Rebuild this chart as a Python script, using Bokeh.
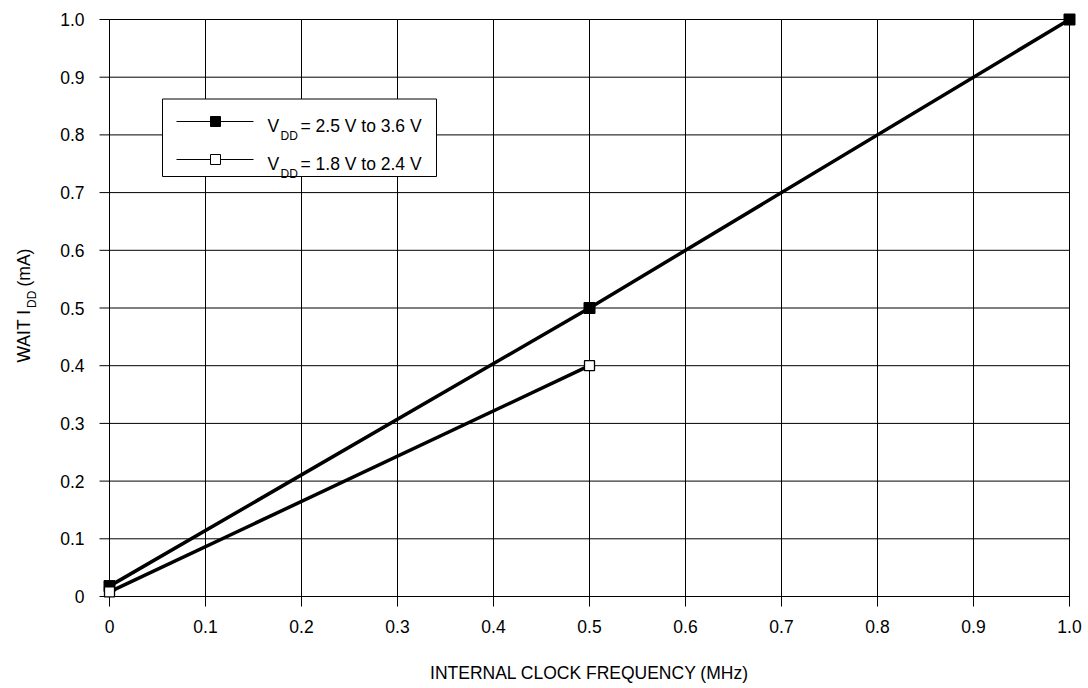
import math
from bokeh.plotting import figure
from bokeh.models import Range1d, FixedTicker, Label
from bokeh.core.properties import value
from bokeh.layouts import row
from bokeh.embed import file_html
from bokeh.resources import INLINE

# ---- data ----
freq_a = [0.0, 0.5, 1.0]
idd_a = [0.018, 0.5, 1.0]
freq_b = [0.0, 0.5]
idd_b = [0.008, 0.4]
label_a = "= 2.5 V to 3.6 V"
label_b = "= 1.8 V to 2.4 V"
x_ticks = [0.0, 0.1, 0.2, 0.3, 0.4, 0.5, 0.6, 0.7, 0.8, 0.9, 1.0]
y_ticks = [0.0, 0.1, 0.2, 0.3, 0.4, 0.5, 0.6, 0.7, 0.8, 0.9, 1.0]
x_tick_labels = ["0", "0.1", "0.2", "0.3", "0.4", "0.5", "0.6", "0.7", "0.8", "0.9", "1.0"]
y_tick_labels = ["0", "0.1", "0.2", "0.3", "0.4", "0.5", "0.6", "0.7", "0.8", "0.9", "1.0"]

FONT = "Liberation Sans"
FS = "17.5px"

# geometry (page pixels)
PL, PR, PT, PB = 109, 1069, 19, 596      # data 0..1 box
PAD = 12                                  # room so end markers are not clipped
TICK = 10
W, H = 1088, 688
LW = 50                                   # width of the y-title strip
fl, fr, ft, fb = PL - PAD, PR + PAD, PT - PAD, PB + PAD

def px(xp):
    return (xp - PL) / (PR - PL)

def py(yp):
    return (PB - yp) / (PB - PT)

# ---- y title strip (allows the subscript); its frame is aligned to the main frame ----
left = figure(width=LW, height=H, output_backend="svg", toolbar_location=None,
              x_range=Range1d(0, LW), y_range=Range1d(H - fb, H - ft),
              x_axis_type=None, y_axis_type=None, min_border=0)
left.outline_line_color = None
left.background_fill_color = "white"
left.border_fill_color = "white"
ang = math.pi / 2
left.text(x=[23.5], y=[H - 362], text=["WAIT I"], angle=ang, text_font=value(FONT),
          text_font_size=FS, text_align="left", text_baseline="middle", text_color="black")
left.text(x=[31], y=[H - 307.5], text=["DD"], angle=ang, text_font=value(FONT),
          text_font_size="12px", text_align="left", text_baseline="middle", text_color="black")
left.text(x=[23.5], y=[H - 286], text=["(mA)"], angle=ang, text_font=value(FONT),
          text_font_size=FS, text_align="left", text_baseline="middle", text_color="black")

# ---- main chart ----
p = figure(width=W - LW, height=H, output_backend="svg", toolbar_location=None,
           x_range=Range1d(px(fl), px(fr)), y_range=Range1d(py(fb), py(ft)),
           min_border_left=fl - LW, min_border_right=W - fr,
           min_border_top=ft, min_border_bottom=H - fb)
p.outline_line_color = None
p.background_fill_color = "white"
p.border_fill_color = "white"
p.xgrid.visible = False
p.ygrid.visible = False

for ax, ticks, labels in ((p.xaxis[0], x_ticks, x_tick_labels), (p.yaxis[0], y_ticks, y_tick_labels)):
    ax.ticker = FixedTicker(ticks=ticks)
    ax.major_label_overrides = {t: l for t, l in zip(ticks, labels)}
    ax.major_tick_in = 0
    ax.major_tick_out = 0
    ax.minor_tick_in = 0
    ax.minor_tick_out = 0
    ax.axis_line_color = None
    ax.major_tick_line_color = None
    ax.minor_tick_line_color = None
    ax.major_label_text_font = FONT
    ax.major_label_text_font_size = FS
    ax.major_label_text_color = "black"

p.xaxis.major_label_standoff = 11
p.yaxis.major_label_standoff = 13
p.xaxis.axis_label = "INTERNAL CLOCK FREQUENCY (MHz)"
p.xaxis.axis_label_text_font = FONT
p.xaxis.axis_label_text_font_size = FS
p.xaxis.axis_label_text_font_style = "normal"
p.xaxis.axis_label_text_color = "black"
p.xaxis.axis_label_standoff = 27

# grid lines that run out past the axes as tick marks
tx = TICK / (PR - PL)
ty = TICK / (PB - PT)
p.segment(x0=x_ticks, y0=[-ty] * len(x_ticks), x1=x_ticks, y1=[1.0] * len(x_ticks),
          line_color="black", line_width=1)
p.segment(x0=[-tx] * len(y_ticks), y0=y_ticks, x1=[1.0] * len(y_ticks), y1=y_ticks,
          line_color="black", line_width=1)

# ---- series ----
p.line(freq_a, idd_a, line_color="black", line_width=3.5)
p.scatter(freq_a, idd_a, marker="square", size=11, fill_color="black", line_color="black")
p.line(freq_b, idd_b, line_color="black", line_width=3.5)
p.scatter(freq_b, idd_b, marker="square", size=10, fill_color="white", line_color="black", line_width=1.3)

# ---- legend (custom, to allow subscripts) ----
p.quad(left=[px(162)], right=[px(436)], top=[py(98.5)], bottom=[py(176)],
       fill_color="white", line_color="black", line_width=1)
rows = [(121, "black", label_a), (159, "white", label_b)]
for yrow, fill, txt in rows:
    p.line([px(176), px(253)], [py(yrow), py(yrow)], line_color="black", line_width=1)
    p.scatter([px(215)], [py(yrow)], marker="square", size=10, fill_color=fill,
              line_color="black", line_width=1)
    p.add_layout(Label(x=px(267), y=py(yrow + 4), text="V", text_font=FONT,
                       text_font_size=FS, text_baseline="middle", text_color="black"))
    p.add_layout(Label(x=px(280), y=py(yrow + 14), text="DD", text_font=FONT,
                       text_font_size="12px", text_baseline="middle", text_color="black"))
    p.add_layout(Label(x=px(300), y=py(yrow + 4), text=txt, text_font=FONT,
                       text_font_size=FS, text_baseline="middle", text_color="black"))

open("out.html", "w").write(file_html(row(left, p), INLINE))
